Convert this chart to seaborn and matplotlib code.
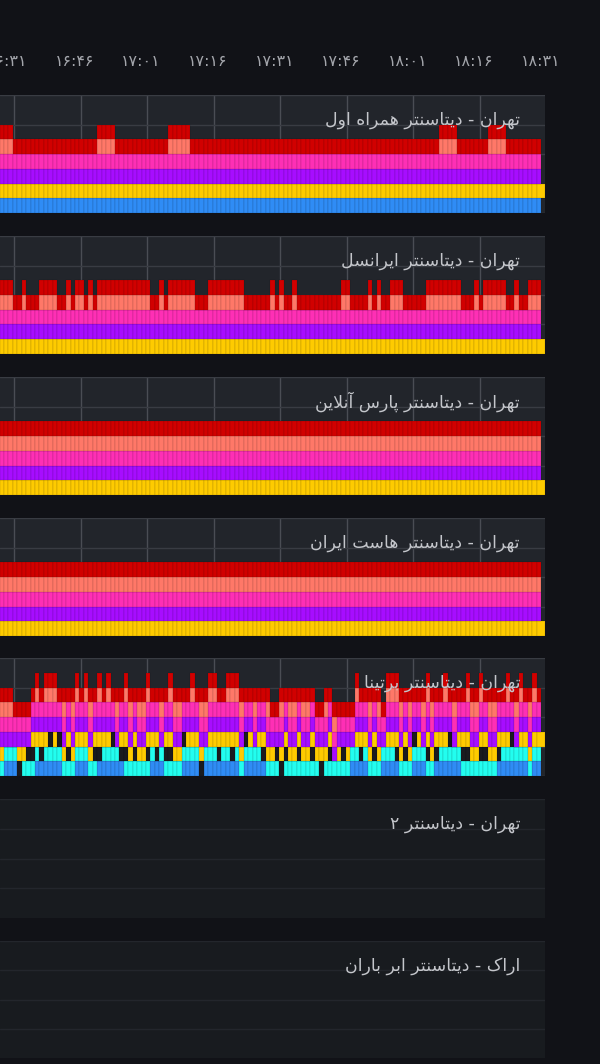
import numpy as np
import pandas as pd
import matplotlib
matplotlib.use("Agg")
import matplotlib.pyplot as plt
from matplotlib.colors import to_rgb
import seaborn as sns

W, H = 600, 1064
sns.set_theme(style="dark")
plt.rcParams['font.family'] = ['DejaVu Sans']

# ---------------- data ----------------
n_bars = 122
first_bar_minute = 28.25                      # minutes after 16:00 (bar centre)
bar_minutes = first_bar_minute + np.arange(n_bars)

tick_minutes = [31, 46, 61, 76, 91, 106, 121, 136, 151]
tick_labels = ["۱۶:۳۱", "۱۶:۴۶", "۱۷:۰۱", "۱۷:۱۶", "۱۷:۳۱",
               "۱۷:۴۶", "۱۸:۰۱", "۱۸:۱۶", "۱۸:۳۱"]

titles = [
    "تهران - دیتاسنتر همراه اول",
    "تهران - دیتاسنتر ایرانسل",
    "تهران - دیتاسنتر پارس آنلاین",
    "تهران - دیتاسنتر هاست ایران",
    "تهران - دیتاسنتر برتینا",
    "تهران - دیتاسنتر ۲",
    "اراک - دیتاسنتر ابر باران",
]

COLORS = {
    "blue": "#2f8cf5", "cyan": "#22fdef", "dark": "#1a1b1f",
    "yellow": "#fecb00", "purple": "#a70dff", "pink": "#fe2fb5",
    "salmon": "#ff7868", "red": "#d10000",
}

# panel 1: series bottom -> top, salmon only on listed bars
p1_series = ["blue", "yellow", "purple", "pink", "salmon", "red"]
p1_salmon_bars = [0, 1, 2, 22, 23, 24, 25, 38, 39, 40, 41, 42,
                  99, 100, 101, 102, 110, 111, 112, 113]

# panel 2
p2_series = ["yellow", "purple", "pink", "salmon", "red"]
p2_salmon_bars = [0, 1, 2, 5, 9, 10, 11, 12, 15, 17, 18, 20,
                  22, 23, 24, 25, 26, 27, 28, 29, 30, 31, 32, 33, 36,
                  38, 39, 40, 41, 42, 43, 47, 48, 49, 50, 51, 52, 53, 54,
                  61, 63, 66, 77, 78, 83, 85, 88, 89, 90,
                  96, 97, 98, 99, 100, 101, 102, 103, 107,
                  109, 110, 111, 112, 113, 116, 119, 120, 121]

# panels 3 and 4: every series present on every bar
p3_series = ["yellow", "purple", "pink", "salmon", "red"]
p4_series = ["yellow", "purple", "pink", "salmon", "red"]

# panel 5: composition of each bar (letters bottom -> top)
p5_series = ["blue", "cyan", "dark", "yellow", "purple", "pink", "salmon", "red"]
p5_codes = {"blue": "B", "cyan": "C", "dark": "K", "yellow": "Y",
            "purple": "P", "pink": "M", "salmon": "S", "red": "R"}
p5_columns = [
    "CYPMSR", "BCPMSR", "BCPMSR", "BCPMR", "KYPMR", "CYPMR", "CKPMR", "CKYPMR", "BCYPMSR", "BKYPMR",
    "BCYPMSR", "BCKPMSR", "BCYPMSR", "BCKPMR", "CYPMSR", "CKYPMR", "CYPMSR", "BCYPMSR", "BCYPMR", "BCYPMSR",
    "CYPMSR", "CKYPMR", "BKYPMSR", "BCYPMR", "BCYPMSR", "BCKPMR", "BCPMSR", "BKYPMR", "CKYPMSR", "CYPMSR",
    "CKYPMR", "CYPMSR", "CYPMSR", "CKYPMSR", "BCYPMR", "BKYPMR", "BCPMSR", "CKYPMR", "CKYPMSR", "CYPMSR",
    "CYPMSR", "BCKPMR", "BCYPMR", "BCYPMSR", "BCYPMR", "KYPMSR", "BCPMSR", "BCYPMSR", "BCYPMSR", "BKYPMR",
    "BCYPMR", "BCYPMSR", "BKYPMSR", "BCYPMSR", "CYPMSR", "BCKPMR", "BCYPMR", "BCPMSR", "BCYPMR", "BKYPMR",
    "CYPMSR", "CYPMR", "CKPMR", "KYPMSR", "CKYPMR", "CYPMSR", "CYPMSR", "CKYPMR", "CYPMSR", "CYPMSR",
    "CKYPMR", "CYPMR", "KYPMR", "CYPMSR", "CKYPMR", "CPMSR", "CYPMR", "CKPMR", "CYPMR", "BCPMR",
    "BCYPMSR", "BKYPMR", "BCYPMR", "CYPMSR", "CKYPMR", "CYPMSR", "BCPMR", "BCYPMSR", "BCYPMSR", "BKYPMSR",
    "CYPMSR", "CKYPMR", "CYPMSR", "BCKPMR", "BCYPMR", "BCPMSR", "CKYPMSR", "CYPMSR", "BKYPMR", "BCYPMR",
    "BCYPMSR", "BCKPMR", "BCPMSR", "BCYPMR", "CKYPMR", "CKYPMSR", "CYPMSR", "CYPMSR", "CKYPMSR", "CKYPMR",
    "CYPMSR", "CYPMSR", "BKYPMR", "BCYPMR", "BCYPMSR", "BCKPMR", "BCPMSR", "BCYPMSR", "BCYPMR", "CYPMSR",
    "BCYPMSR", "BCYPMR",
]

# --------------- Persian shaping (presentation forms + RTL order) ---------------
FORMS = {  # isolated, final, initial, medial
    'ا': ('\uFE8D', '\uFE8E', None, None),
    'آ': ('\uFE81', '\uFE82', None, None),
    'ب': ('\uFE8F', '\uFE90', '\uFE91', '\uFE92'),
    'پ': ('\uFB56', '\uFB57', '\uFB58', '\uFB59'),
    'ت': ('\uFE95', '\uFE96', '\uFE97', '\uFE98'),
    'د': ('\uFEA9', '\uFEAA', None, None),
    'ر': ('\uFEAD', '\uFEAE', None, None),
    'س': ('\uFEB1', '\uFEB2', '\uFEB3', '\uFEB4'),
    'ک': ('\uFB8E', '\uFB8F', '\uFB90', '\uFB91'),
    'ل': ('\uFEDD', '\uFEDE', '\uFEDF', '\uFEE0'),
    'م': ('\uFEE1', '\uFEE2', '\uFEE3', '\uFEE4'),
    'ن': ('\uFEE5', '\uFEE6', '\uFEE7', '\uFEE8'),
    'ه': ('\uFEE9', '\uFEEA', '\uFEEB', '\uFEEC'),
    'و': ('\uFEED', '\uFEEE', None, None),
    'ی': ('\uFBFC', '\uFBFD', '\uFBFE', '\uFBFF'),
}
LAM_ALEF = {'ا': ('\uFEFB', '\uFEFC'), 'آ': ('\uFEF5', '\uFEF6')}


def shape(text):
    out = []
    i = 0
    chars = list(text)
    while i < len(chars):
        c = chars[i]
        if c not in FORMS:
            out.append(c)
            i += 1
            continue
        prev = chars[i - 1] if i > 0 else None
        prev_joins = prev in FORMS and FORMS[prev][2] is not None
        nxt = chars[i + 1] if i + 1 < len(chars) else None
        if c == 'ل' and nxt in LAM_ALEF:
            out.append(LAM_ALEF[nxt][1 if prev_joins else 0])
            i += 2
            continue
        f = FORMS[c]
        next_joins = nxt in FORMS and f[2] is not None
        if prev_joins and next_joins:
            out.append(f[3])
        elif prev_joins:
            out.append(f[1])
        elif next_joins:
            out.append(f[2])
        else:
            out.append(f[0])
        i += 1
    return ''.join(reversed(out))


# --------------- figure ---------------
fig = plt.figure(figsize=(W / 100, H / 100), dpi=100)
fig.patch.set_facecolor("#111217")

XL = (first_bar_minute - 0.4, first_bar_minute + 122.4)
TITLE_COLOR = "#c4c6cb"
TITLE_SIZE = 12.5


def px_rect(x0, y0, x1, y1):
    return [x0 / W, 1 - y1 / H, (x1 - x0) / W, (y1 - y0) / H]


def frame(series, on):
    recs = []
    for k, m in enumerate(bar_minutes):
        for s in series:
            recs.append((m, s, on(k, s)))
    return pd.DataFrame(recs, columns=["minute", "series", "value"])


panel_frames = [
    (p1_series, frame(p1_series, lambda k, s: int(k in p1_salmon_bars) if s == "salmon" else 1)),
    (p2_series, frame(p2_series, lambda k, s: int(k in p2_salmon_bars) if s == "salmon" else 1)),
    (p3_series, frame(p3_series, lambda k, s: 1)),
    (p4_series, frame(p4_series, lambda k, s: 1)),
    (p5_series, frame(p5_series, lambda k, s: int(p5_codes[s] in p5_columns[k]))),
]

panel_tops = [95, 236, 377, 518, 658]
for (series, df), top, title in zip(panel_frames, panel_tops, titles[:5]):
    ax = fig.add_axes(px_rect(0, top, 545, top + 118))
    ax.set_facecolor("#22252b")
    ax.set_axisbelow(True)
    sns.histplot(data=df, x="minute", weights="value", hue="series",
                 hue_order=series[::-1], multiple="stack", discrete=True,
                 shrink=1, palette=COLORS, alpha=1, linewidth=0.35,
                 edgecolor=(0, 0, 0, 0.22), legend=False, ax=ax)
    # last yellow bar is drawn slightly wider in the source
    for cont in ax.containers:
        fc = cont.patches[0].get_facecolor()
        if np.allclose(fc[:3], to_rgb(COLORS["yellow"]), atol=0.01):
            last = max(cont.patches, key=lambda r: r.get_x())
            last.set_width(last.get_width() + 0.9)
    ax.set_xlim(*XL)
    ax.set_ylim(0, 8)
    ax.set_xticks(tick_minutes[:-1])
    ax.set_yticks([0, 2, 4, 6, 8])
    ax.grid(axis="x", color="#4a4d54", lw=1.0)
    ax.grid(axis="y", color="#393c43", lw=1.0)
    ax.tick_params(length=0, labelbottom=False, labelleft=False)
    ax.set_xlabel("")
    ax.set_ylabel("")
    for sp in ax.spines.values():
        sp.set_visible(False)
    fig.text(520 / W, 1 - (top + 25) / H, shape(title), ha="right", va="center",
             color=TITLE_COLOR, fontsize=TITLE_SIZE, zorder=10)

# empty panels
for top, bot, title in [(799, 918, titles[5]), (941, 1058, titles[6])]:
    ax = fig.add_axes(px_rect(0, top, 545, bot))
    ax.set_facecolor("#181b1f")
    ax.set_xlim(*XL)
    ax.set_ylim(0, 4)
    ax.set_xticks([])
    ax.set_yticks([1, 2, 3, 4])
    ax.grid(axis="y", color="#23262c", lw=1.0)
    ax.tick_params(length=0, labelbottom=False, labelleft=False)
    for sp in ax.spines.values():
        sp.set_visible(False)
    fig.text(520 / W, 1 - (top + 25) / H, shape(title), ha="right", va="center",
             color=TITLE_COLOR, fontsize=TITLE_SIZE, zorder=10)

# header time axis
hx = fig.add_axes(px_rect(0, 49, 545, 51))
hx.set_xlim(XL[0] + 1.35, XL[1] + 1.35)
hx.set_facecolor("none")
hx.set_xticks(tick_minutes)
hx.set_xticklabels(tick_labels, color="#a3a5ab", fontsize=11.5)
hx.set_yticks([])
hx.tick_params(length=0, pad=2)
for sp in hx.spines.values():
    sp.set_visible(False)

fig.savefig("out.png", dpi=100, facecolor=fig.get_facecolor())
